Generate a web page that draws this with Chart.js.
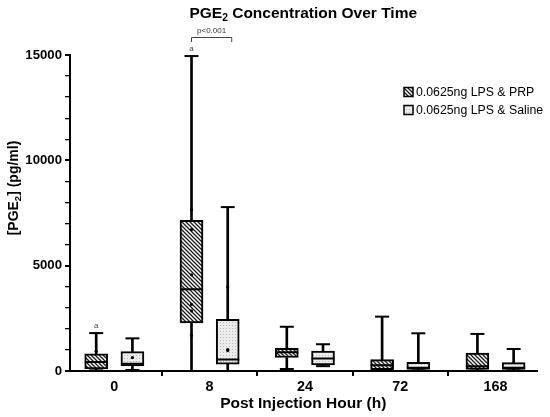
<!DOCTYPE html>
<html><head><meta charset="utf-8">
<script src="https://cdn.jsdelivr.net/npm/chart.js@4/dist/chart.umd.min.js"></script>
<style>html,body{margin:0;padding:0;background:#fff}#c{display:block}</style>
</head><body>
<canvas id="c" width="550" height="417"></canvas>
<script>
// ---- data ----
const categories = ['0', '8', '24', '72', '168'];
const seriesNames = ['0.0625ng LPS & PRP', '0.0625ng LPS & Saline'];
const prpMin    = [30, 0, 95, 20, 20];
const prpQ1     = [95, 2280, 640, 65, 80];
const prpMedian = [430, 3880, 890, 270, 220];
const prpQ3     = [810, 7150, 1080, 540, 855];
const prpMax    = [1800, 14950, 2100, 2580, 1760];
const salMin    = [50, 0, 230, 30, 30];
const salQ1     = [240, 330, 285, 80, 80];
const salMedian = [350, 540, 590, 160, 160];
const salQ3     = [920, 2450, 950, 410, 400];
const salMax    = [1550, 7780, 1270, 1790, 1045];
const prpPoints = [[935], [7660, 6710, 4570, 3160, 2850, 1690], [], [], []];
const salPoints = [[635], [3985, 1015, 970], [], [], []];
const yTicksMajor = [0, 5000, 10000, 15000];
const sigLabels = [{cat: 0, series: 0, text: 'a'}, {cat: 1, series: 0, text: 'a'}];
const bracket = {cat: 1, text: 'p<0.001'};

// ---- styling ----
const DODGE = 0.19;
const FONT = "'Liberation Sans', Arial, sans-serif";
Chart.defaults.font.family = FONT;
Chart.defaults.color = '#000';

function hatchPattern() {
  const s = 4, c = document.createElement('canvas');
  c.width = s; c.height = s;
  const g = c.getContext('2d');
  g.fillStyle = '#fff'; g.fillRect(0, 0, s, s);
  g.strokeStyle = '#1a1a1a'; g.lineWidth = 1.3;
  g.beginPath();
  g.moveTo(-1, -1); g.lineTo(s + 1, s + 1);
  g.moveTo(-1, s - 1); g.lineTo(1, s + 1);
  g.moveTo(s - 1, -1); g.lineTo(s + 1, 1);
  g.stroke();
  return g.createPattern(c, 'repeat');
}
function dotPattern() {
  const s = 3, c = document.createElement('canvas');
  c.width = s; c.height = s;
  const g = c.getContext('2d');
  g.fillStyle = '#ececec'; g.fillRect(0, 0, s, s);
  g.fillStyle = '#b8b8b8'; g.fillRect(1, 1, 1, 1);
  return g.createPattern(c, 'repeat');
}
const fills = [hatchPattern(), dotPattern()];

const groups = [
  {min: prpMin, q1: prpQ1, med: prpMedian, q3: prpQ3, max: prpMax, pts: prpPoints, off: -DODGE},
  {min: salMin, q1: salQ1, med: salMedian, q3: salQ3, max: salMax, pts: salPoints, off: DODGE}
];

const datasets = [];
groups.forEach((g, s) => {
  datasets.push({
    type: 'bar', label: seriesNames[s],
    data: categories.map((c, i) => ({x: i + g.off, y: [g.q1[i], g.q3[i]]})),
    backgroundColor: fills[s], borderColor: '#000', borderWidth: 2, borderSkipped: false,
    barThickness: 23, grouped: false, order: 5
  });
  const wh = [];
  categories.forEach((c, i) => {
    wh.push({x: i + g.off, y: [g.min[i], g.q1[i]]});
    wh.push({x: i + g.off, y: [g.q3[i], g.max[i]]});
  });
  datasets.push({
    type: 'bar', label: 'whisker' + s, data: wh,
    backgroundColor: '#000', borderWidth: 0, barThickness: 2, grouped: false, order: 10
  });
  const caps = [];
  categories.forEach((c, i) => {
    caps.push({x: i + g.off, y: g.max[i]});
    caps.push({x: i + g.off, y: g.min[i]});
  });
  datasets.push({
    type: 'scatter', label: 'cap' + s, data: caps, pointStyle: 'line', pointRadius: 7,
    borderColor: '#000', pointBorderWidth: 2, borderWidth: 2, clip: false, order: 1
  });
  datasets.push({
    type: 'scatter', label: 'median' + s,
    data: categories.map((c, i) => ({x: i + g.off, y: g.med[i]})),
    pointStyle: 'line', pointRadius: 11.5, borderColor: '#000', pointBorderWidth: 2, borderWidth: 2, order: 1
  });
  const pts = [];
  categories.forEach((c, i) => g.pts[i].forEach(v => pts.push({x: i + g.off, y: v})));
  datasets.push({
    type: 'scatter', label: 'points' + s, data: pts, pointStyle: 'circle', pointRadius: 1.6,
    backgroundColor: '#000', borderColor: '#000', borderWidth: 0, order: 0
  });
});

const overlay = {
  id: 'overlay',
  afterDraw(chart) {
    const ctx = chart.ctx, xs = chart.scales.x, ys = chart.scales.y;
    ctx.save();
    // title
    ctx.fillStyle = '#000'; ctx.textBaseline = 'alphabetic';
    const tf = 'bold 15.5px ' + FONT, sf = 'bold 10.3px ' + FONT;
    ctx.font = tf; const w1 = ctx.measureText('PGE').width, w3 = ctx.measureText(' Concentration Over Time').width;
    ctx.font = sf; const w2 = ctx.measureText('2').width;
    let tx = (chart.chartArea.left + chart.chartArea.right) / 2 - (w1 + w2 + w3) / 2;
    ctx.textAlign = 'left';
    ctx.font = tf; ctx.fillText('PGE', tx, 18.3);
    ctx.font = sf; ctx.fillText('2', tx + w1, 21);
    ctx.font = tf; ctx.fillText(' Concentration Over Time', tx + w1 + w2, 18.3);
    // y axis title
    ctx.save();
    ctx.translate(17.5, 188); ctx.rotate(-Math.PI / 2);
    const yf = 'bold 14px ' + FONT, ysf = 'bold 9.5px ' + FONT;
    ctx.font = yf; const a1 = ctx.measureText('[PGE').width, a3 = ctx.measureText('] (pg/ml)').width;
    ctx.font = ysf; const a2 = ctx.measureText('2').width;
    let ax = -(a1 + a2 + a3) / 2;
    ctx.font = yf; ctx.fillText('[PGE', ax, 0);
    ctx.font = ysf; ctx.fillText('2', ax + a1, 3);
    ctx.font = yf; ctx.fillText('] (pg/ml)', ax + a1 + a2, 0);
    ctx.restore();
    // significance letters
    ctx.fillStyle = '#444'; ctx.font = '8px ' + FONT; ctx.textAlign = 'center';
    sigLabels.forEach(l => {
      const g = groups[l.series];
      ctx.fillText(l.text, xs.getPixelForValue(l.cat + g.off), ys.getPixelForValue(g.max[l.cat]) - 5);
    });
    // bracket
    const bx1 = xs.getPixelForValue(bracket.cat + groups[0].off);
    const bx2 = xs.getPixelForValue(bracket.cat + groups[1].off) + 4;
    ctx.strokeStyle = '#444'; ctx.lineWidth = 1;
    ctx.beginPath();
    ctx.moveTo(bx1, 42); ctx.lineTo(bx1, 37.5); ctx.lineTo(bx2, 37.5); ctx.lineTo(bx2, 42);
    ctx.stroke();
    ctx.fillStyle = '#333';
    ctx.fillText(bracket.text, (bx1 + bx2) / 2, 33);
    // legend
    const lx = 404, ly = [92, 110];
    seriesNames.forEach((n, s) => {
      ctx.fillStyle = fills[s];
      ctx.fillRect(lx, ly[s] - 4.5, 9, 9);
      ctx.strokeStyle = '#000'; ctx.lineWidth = 1.5;
      ctx.strokeRect(lx, ly[s] - 4.5, 9, 9);
      ctx.fillStyle = '#000'; ctx.font = '12.3px ' + FONT; ctx.textAlign = 'left'; ctx.textBaseline = 'middle';
      ctx.fillText(n, 416, ly[s] + 0.5);
    });
    ctx.restore();
  }
};

new Chart(document.getElementById('c'), {
  type: 'bar',
  data: {datasets},
  options: {
    responsive: false, animation: false, devicePixelRatio: 1,
    layout: {padding: {top: 55, right: 6, left: 0, bottom: 0}},
    plugins: {legend: {display: false}, tooltip: {enabled: false}, title: {display: false}},
    scales: {
      x: {
        type: 'linear', min: -0.465, max: 4.43, offset: false,
        afterBuildTicks: (s) => { s.ticks = categories.map((c, i) => ({value: i})); },
        afterFit: (s) => { s.height = 46; },
        ticks: {autoSkip: false, padding: 2, font: {size: 14.4, weight: 'bold'}, color: '#000',
          callback: (v) => categories[v]},
        grid: {display: true, drawOnChartArea: false, drawTicks: true, tickLength: 5, color: '#000', lineWidth: 2},
        border: {display: true, color: '#000', width: 2},
        title: {display: true, text: 'Post Injection Hour (h)', font: {size: 15.5, weight: 'bold'}, color: '#000', padding: {top: 0, bottom: 4}}
      },
      y: {
        type: 'linear', min: 0, max: 15000,
        afterBuildTicks: (s) => { const t = []; for (let v = 0; v <= 15000; v += 1000) t.push({value: v}); s.ticks = t; },
        afterFit: (s) => { s.width = 70; },
        ticks: {autoSkip: false, padding: 3, font: {size: 13.2, weight: 'bold'}, color: '#000',
          callback: (v) => yTicksMajor.includes(v) ? String(v) : ''},
        grid: {display: true, drawOnChartArea: false, drawTicks: true, tickLength: 5, color: '#000',
          lineWidth: (c) => (c.tick && yTicksMajor.includes(c.tick.value)) ? 2 : 1.3},
        border: {display: true, color: '#000', width: 2}
      }
    }
  },
  plugins: [overlay]
});
</script>
</body></html>
